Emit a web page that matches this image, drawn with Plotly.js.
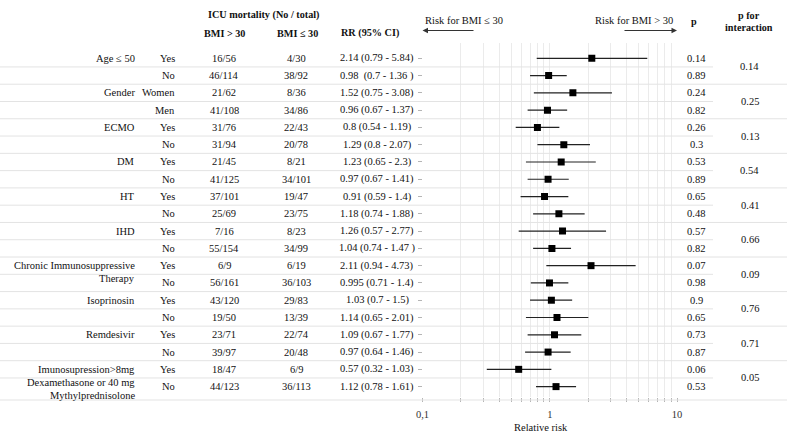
<!DOCTYPE html>
<html>
<head>
<meta charset="utf-8">
<script src="https://cdn.plot.ly/plotly-3.0.1.min.js"></script>
<style>html,body{margin:0;padding:0;background:#fff;}#chart{width:787px;height:433px;}</style>
</head>
<body>
<div id="chart"></div>
<script>
// ---------------- data ----------------
const groupNames = ['Age ≤ 50', 'Gender', 'ECMO', 'DM', 'HT', 'IHD',
  ['Chronic Immunosuppressive', 'Therapy'], 'Isoprinosin', 'Remdesivir',
  ['Imunosupression>8mg', 'Dexamethasone or 40 mg', 'Mythylprednisolone']];
const subgroups = ['Yes','No','Women','Men','Yes','No','Yes','No','Yes','No',
  'Yes','No','Yes','No','Yes','No','Yes','No','Yes','No'];
const bmiOver30 = ['16/56','46/114','21/62','41/108','31/76','31/94','21/45','41/125','37/101','25/69',
  '7/16','55/154','6/9','56/161','43/120','19/50','23/71','39/97','18/47','44/123'];
const bmiUnder30 = ['4/30','38/92','8/36','34/86','22/43','20/78','8/21','34/101','19/47','23/75',
  '8/23','34/99','6/19','36/103','29/83','13/39','22/74','20/48','6/9','36/113'];
const rrLabels = ['2.14 (0.79 - 5.84)','0.98  (0.7 - 1.36 )','1.52 (0.75 - 3.08)','0.96 (0.67 - 1.37)',
  '0.8 (0.54 - 1.19)','1.29 (0.8 - 2.07)','1.23 (0.65 - 2.3)','0.97 (0.67 - 1.41)','0.91 (0.59 - 1.4)',
  '1.18 (0.74 - 1.88)','1.26 (0.57 - 2.77)','1.04 (0.74 - 1.47 )','2.11 (0.94 - 4.73)','0.995 (0.71 - 1.4)',
  '1.03 (0.7 - 1.5)','1.14 (0.65 - 2.01)','1.09 (0.67 - 1.77)','0.97 (0.64 - 1.46)','0.57 (0.32 - 1.03)',
  '1.12 (0.78 - 1.61)'];
const rr     = [2.14,0.98,1.52,0.96,0.8,1.29,1.23,0.97,0.91,1.18,1.26,1.04,2.11,0.995,1.03,1.14,1.09,0.97,0.57,1.12];
const ciLow  = [0.79,0.7,0.75,0.67,0.54,0.8,0.65,0.67,0.59,0.74,0.57,0.74,0.94,0.71,0.7,0.65,0.67,0.64,0.32,0.78];
const ciHigh = [5.84,1.36,3.08,1.37,1.19,2.07,2.3,1.41,1.4,1.88,2.77,1.47,4.73,1.4,1.5,2.01,1.77,1.46,1.03,1.61];
const pValues = ['0.14','0.89','0.24','0.82','0.26','0.3','0.53','0.89','0.65','0.48',
  '0.57','0.82','0.07','0.98','0.9','0.65','0.73','0.87','0.06','0.53'];
const pInteraction = ['0.14','0.25','0.13','0.54','0.41','0.66','0.09','0.76','0.71','0.05'];
const xTickVals = [0.1,0.2,0.3,0.4,0.5,0.6,0.7,0.8,0.9,1,2,3,4,5,6,7,8,9,10];
const xTickText = ['0,1','','','','','','','','','1','','','','','','','','','10'];

// ---------------- layout helpers ----------------
const W = 787, H = 433;
const FONT = '"Liberation Serif", "Times New Roman", Times, serif';
const ROW1_PX = 58.3, ROW_STEP = 17.28;
const rowOfPx = p => 1 + (p - ROW1_PX) / ROW_STEP;
const PLOT_LEFT = 422.5, PLOT_RIGHT = 677, PLOT_TOP = 43, PLOT_BOTTOM = 397;
const nRows = subgroups.length;
const rowIdx = subgroups.map((_, i) => i + 1);

const col = {cat: 136, sub: 176, over: 224, under: 296, rr: 377, p: 696, pint: 749.5};
const FS = 10.5;
const txtColor = '#111';

const annotations = [];
function txt(x, y, text, anchor, opts) {
  opts = opts || {};
  annotations.push({xref: 'x2', yref: 'y2', x: x, y: y, text: text, showarrow: false,
    xanchor: anchor || 'center', yanchor: 'middle', borderpad: 0,
    font: {family: FONT, size: opts.size || FS, color: opts.color || txtColor,
           weight: opts.bold ? 'bold' : 'normal'}});
}

// table rows
for (let i = 0; i < nRows; i++) {
  const r = i + 1;
  txt(col.sub, r, subgroups[i], 'right');
  txt(col.over, r, bmiOver30[i]);
  txt(col.under, r, bmiUnder30[i]);
  txt(col.rr, r, rrLabels[i]);
  txt(col.p, r, pValues[i]);
}
// group labels and interaction p
const LINE_STEP = 13.2 / ROW_STEP;
groupNames.forEach((g, gi) => {
  const r0 = gi * 2 + 1;
  const lines = Array.isArray(g) ? g : [g];
  lines.forEach((ln, k) => txt(col.cat, r0 + k * LINE_STEP, ln, 'right'));
  txt(col.pint, r0 + 0.5, pInteraction[gi]);
});

// headers
const HB = {size: 10.2, bold: true};
txt(263, rowOfPx(15), 'ICU mortality (No / total)', 'center', HB);
txt(224.5, rowOfPx(33), 'BMI &gt; 30', 'center', HB);
txt(297.5, rowOfPx(33), 'BMI ≤ 30', 'center', HB);
txt(370, rowOfPx(33), 'RR (95% CI)', 'center', HB);
txt(694, rowOfPx(21.5), 'p', 'center', HB);
txt(748.5, rowOfPx(15.5), 'p for', 'center', HB);
txt(748.5, rowOfPx(27), 'interaction', 'center', HB);
txt(464, rowOfPx(20), 'Risk for BMI ≤ 30', 'center');
txt(634, rowOfPx(20), 'Risk for BMI &gt; 30', 'center');
txt(541, rowOfPx(427), 'Relative risk', 'center');

// direction arrows
[[PLOT_LEFT, 475], [PLOT_RIGHT, 623]].forEach(([tip, tail]) => {
  annotations.push({xref: 'x2', yref: 'y2', axref: 'x2', ayref: 'y2',
    x: tip, y: rowOfPx(30.5), ax: tail, ay: rowOfPx(30.5), text: '', showarrow: true,
    arrowhead: 2, arrowsize: 1.1, arrowwidth: 1, arrowcolor: '#333', standoff: 0, startstandoff: 0});
});

// separator lines between rows
const sepX = [], sepY = [];
for (let r = 1; r < nRows; r++) {
  const full = (r % 2 === 0);
  sepX.push(0, full ? W : 713, null);
  sepY.push(r + 0.5, r + 0.5, null);
}
sepX.push(0, W, null); sepY.push(rowOfPx(400), rowOfPx(400), null);

const traces = [
  {type: 'scatter', mode: 'lines', x: sepX, y: sepY, xaxis: 'x2', yaxis: 'y2',
   line: {color: '#e3e3e3', width: 1}, hoverinfo: 'skip', showlegend: false},
  {type: 'scatter', mode: 'markers', x: rr, y: rowIdx, xaxis: 'x', yaxis: 'y',
   marker: {symbol: 'square', size: 7, color: '#000'},
   error_x: {type: 'data', symmetric: false,
     array: rr.map((v, i) => ciHigh[i] - v),
     arrayminus: rr.map((v, i) => v - ciLow[i]),
     width: 0, thickness: 1.2, color: '#222'},
   hoverinfo: 'skip', showlegend: false}
];

const layout = {
  width: W, height: H,
  margin: {l: 0, r: 0, t: 0, b: 0, pad: 0},
  paper_bgcolor: '#fff', plot_bgcolor: 'rgba(0,0,0,0)',
  showlegend: false,
  font: {family: FONT, size: FS, color: txtColor},
  xaxis: {type: 'log', domain: [PLOT_LEFT / W, PLOT_RIGHT / W], range: [-1, 1],
    tickmode: 'array', tickvals: xTickVals, ticktext: xTickText,
    showgrid: true, gridcolor: '#ebebeb', gridwidth: 1, zeroline: false, showline: false,
    ticks: 'outside', ticklen: 4, tickcolor: '#b5b5b5', tickwidth: 1,
    tickfont: {family: FONT, size: FS, color: '#333'}, ticklabelstandoff: 3,
    anchor: 'y', fixedrange: true},
  yaxis: {domain: [1 - PLOT_BOTTOM / H, 1 - PLOT_TOP / H],
    range: [rowOfPx(PLOT_BOTTOM), rowOfPx(PLOT_TOP)],
    tickmode: 'array', tickvals: rowIdx, showticklabels: false,
    ticks: 'outside', ticklen: 4, tickcolor: '#b5b5b5', tickwidth: 1,
    showgrid: false, zeroline: false, showline: false, anchor: 'x', fixedrange: true},
  xaxis2: {domain: [0, 1], range: [0, W], visible: false, anchor: 'y2', fixedrange: true},
  yaxis2: {domain: [0, 1], range: [rowOfPx(H), rowOfPx(0)], visible: false, anchor: 'x2', fixedrange: true},
  annotations: annotations
};

Plotly.newPlot('chart', traces, layout, {displayModeBar: false, staticPlot: true});
</script>
</body>
</html>
